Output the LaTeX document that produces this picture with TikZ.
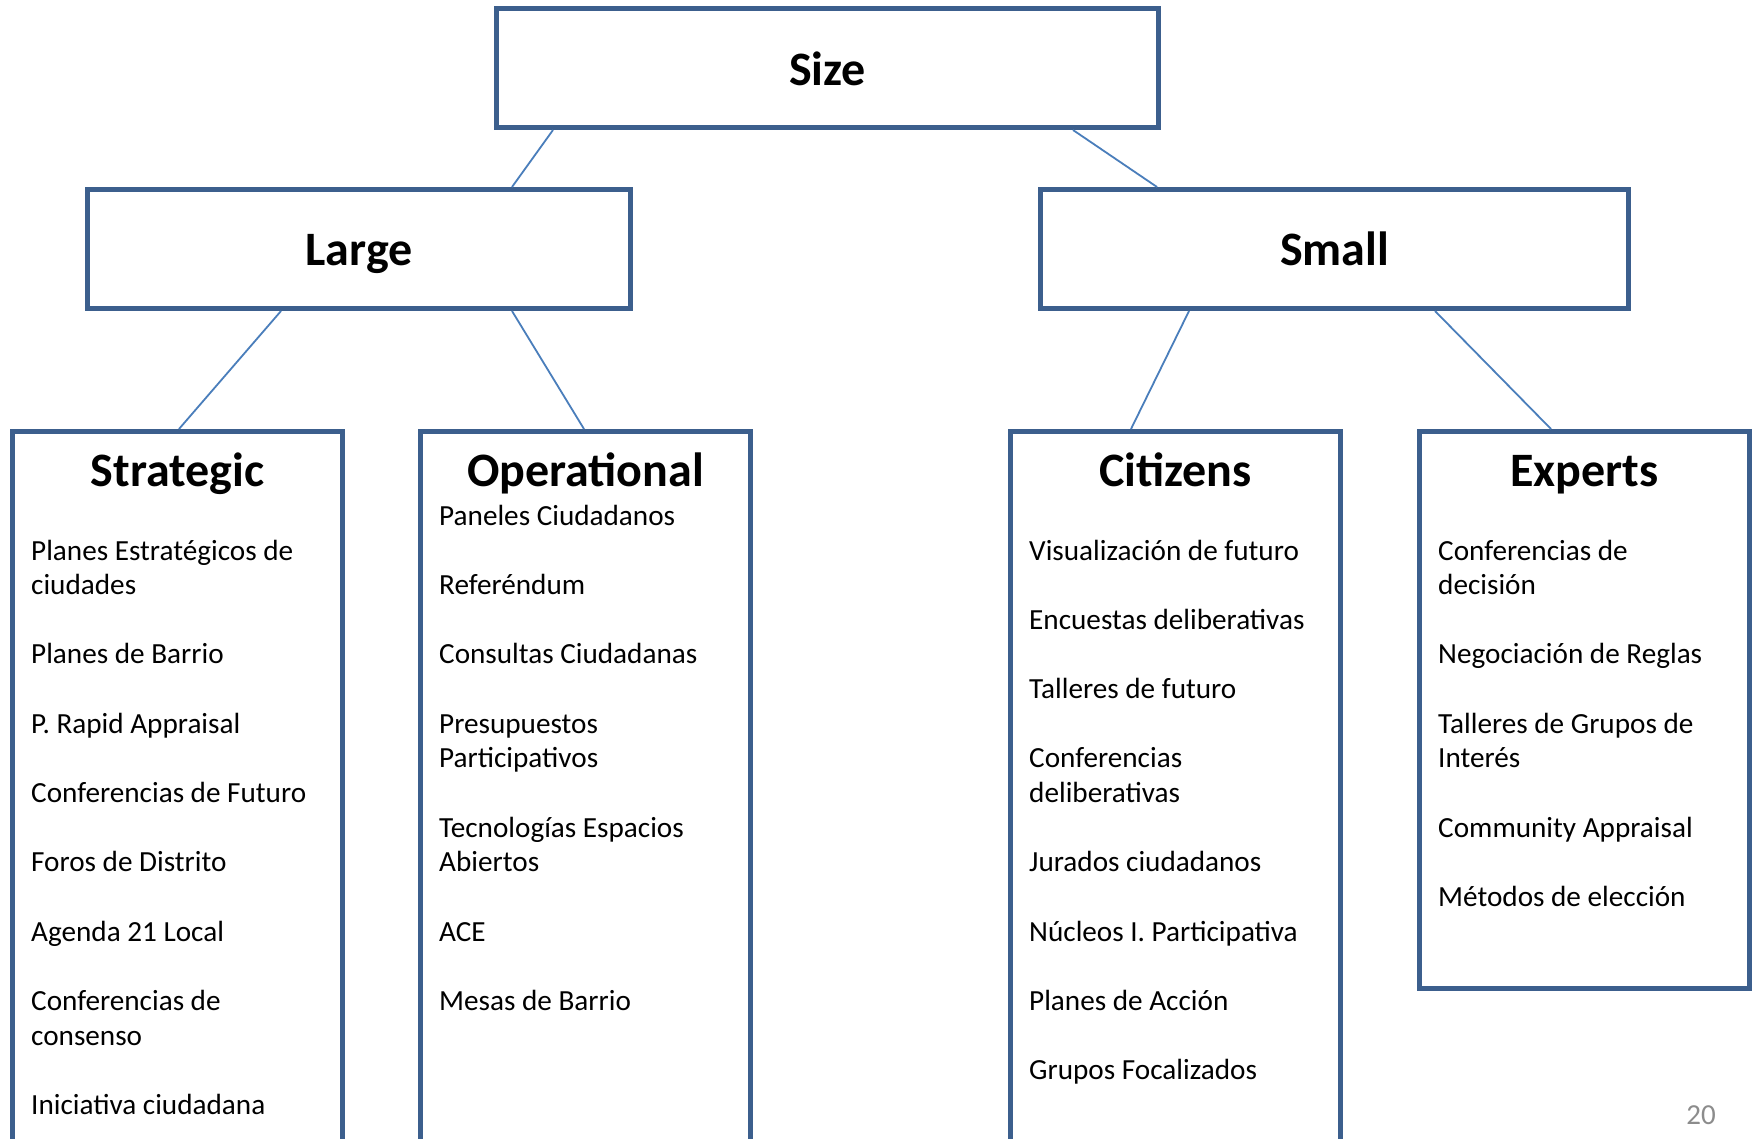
\documentclass[tikz,border=0pt]{standalone}
\usepackage{fontspec}
\setmainfont{Carlito}
\definecolor{boxblue}{HTML}{3C5F8D}
\definecolor{linkblue}{HTML}{4A7EBB}
\definecolor{pagegray}{HTML}{8C8C8C}
\tikzset{
  box/.style={draw=boxblue, line width=5pt, fill=white, rectangle, inner sep=0pt},
  titletext/.style={font=\fontsize{48}{52}\selectfont\bfseries, anchor=base, inner sep=0pt},
  itemtext/.style={font=\fontsize{29.2}{34.65}\selectfont, anchor=base west, inner sep=0pt},
  link/.style={draw=linkblue, line width=1.8pt}
}
\newcommand\itm[4]{\node[itemtext] (#1) at (#2,{560+34.65*(#3)}) {#4};}
\begin{document}
\begin{tikzpicture}[x=1pt,y=-1pt]
\clip (0,0) rectangle (1756,1138);
\fill[white] (0,0) rectangle (1756,1138);

% boxes
\node[box, minimum width=662pt, minimum height=119.5pt] (size) at (827.5,67.75) {};
\node[box, minimum width=543pt, minimum height=119pt] (large) at (359,249) {};
\node[box, minimum width=588pt, minimum height=119pt] (small) at (1334.5,249) {};
\node[box, minimum width=330pt, minimum height=768.5pt] (strategic) at (177.5,815.75) {};
\node[box, minimum width=330pt, minimum height=768.5pt] (operational) at (585.5,815.75) {};
\node[box, minimum width=330pt, minimum height=768.5pt] (citizens) at (1175.5,815.75) {};
\node[box, minimum width=330pt, minimum height=557pt] (experts) at (1584.5,710) {};

% connectors
\draw[link] ([xshift=-274.5pt]size.south) -- ([xshift=153pt]large.north);
\draw[link] ([xshift=245.5pt]size.south) -- ([xshift=-177.5pt]small.north);
\draw[link] ([xshift=-78pt]large.south) -- ([xshift=1.5pt]strategic.north);
\draw[link] ([xshift=153pt]large.south) -- ([xshift=-1.5pt]operational.north);
\draw[link] ([xshift=-145.5pt]small.south) -- ([xshift=-44.5pt]citizens.north);
\draw[link] ([xshift=100.5pt]small.south) -- ([xshift=-33.5pt]experts.north);

% titles
\node[titletext] (sizet) at (827.5,85) {Size};
\node[titletext] (larget) at (359,265) {Large};
\node[titletext] (smallt) at (1334.5,265) {Small};
\node[titletext] (strategict) at (177.5,486) {Strategic};
\node[titletext] (operationalt) at (585.5,486) {Operational};
\node[titletext] (citizenst) at (1175.5,486) {Citizens};
\node[titletext] (expertst) at (1584.5,486) {Experts};

% Strategic items
\itm{s1}{31}{0}{Planes Estratégicos de}
\itm{s1b}{31}{1}{ciudades}
\itm{s2}{31}{3}{Planes de Barrio}
\itm{s3}{31}{5}{P. Rapid Appraisal}
\itm{s4}{31}{7}{Conferencias de Futuro}
\itm{s5}{31}{9}{Foros de Distrito}
\itm{s6}{31}{11}{Agenda 21 Local}
\itm{s7}{31}{13}{Conferencias de}
\itm{s7b}{31}{14}{consenso}
\itm{s8}{31}{16}{Iniciativa ciudadana}

% Operational items
\itm{o1}{439}{-1}{Paneles Ciudadanos}
\itm{o2}{439}{1}{Referéndum}
\itm{o3}{439}{3}{Consultas Ciudadanas}
\itm{o4}{439}{5}{Presupuestos}
\itm{o4b}{439}{6}{Participativos}
\itm{o5}{439}{8}{Tecnologías Espacios}
\itm{o5b}{439}{9}{Abiertos}
\itm{o6}{439}{11}{ACE}
\itm{o7}{439}{13}{Mesas de Barrio}

% Citizens items
\itm{c1}{1029}{0}{Visualización de futuro}
\itm{c2}{1029}{2}{Encuestas deliberativas}
\itm{c3}{1029}{4}{Talleres de futuro}
\itm{c4}{1029}{6}{Conferencias}
\itm{c4b}{1029}{7}{deliberativas}
\itm{c5}{1029}{9}{Jurados ciudadanos}
\itm{c6}{1029}{11}{Núcleos I. Participativa}
\itm{c7}{1029}{13}{Planes de Acción}
\itm{c8}{1029}{15}{Grupos Focalizados}

% Experts items
\itm{e1}{1438}{0}{Conferencias de}
\itm{e1b}{1438}{1}{decisión}
\itm{e2}{1438}{3}{Negociación de Reglas}
\itm{e3}{1438}{5}{Talleres de Grupos de}
\itm{e3b}{1438}{6}{Interés}
\itm{e4}{1438}{8}{Community Appraisal}
\itm{e5}{1438}{10}{Métodos de elección}

% page number
\node[font=\fontsize{29}{32}\selectfont, text=pagegray, anchor=base, inner sep=0pt] (pagenum) at (1701,1124) {20};
\end{tikzpicture}
\end{document}
